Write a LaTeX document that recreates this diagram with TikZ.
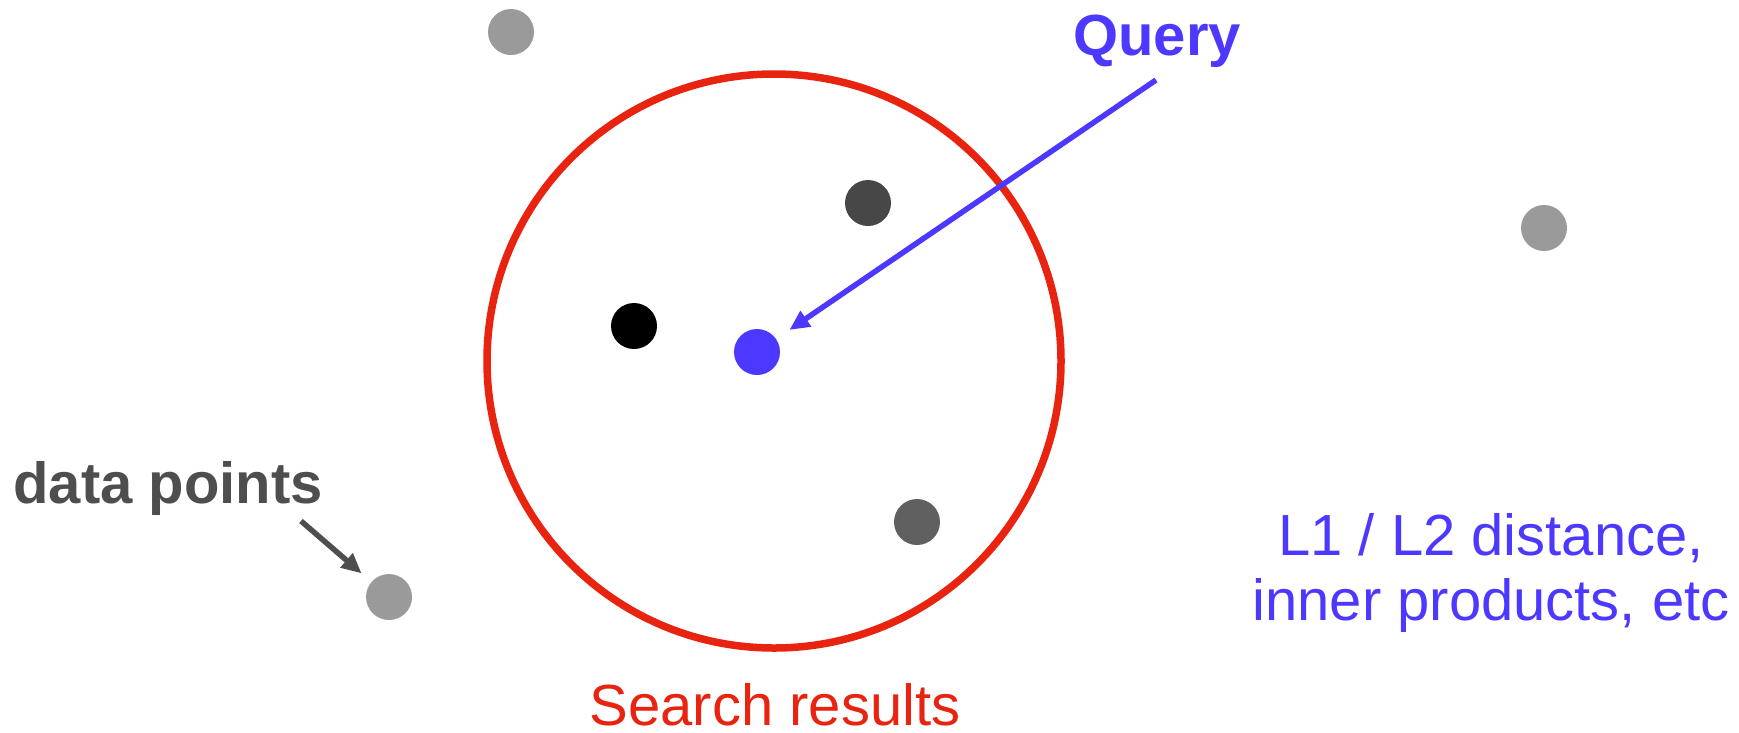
\documentclass[tikz,border=0pt]{standalone}
\usepackage{fontspec}
\setmainfont{Liberation Sans}
\usetikzlibrary{arrows.meta}
\definecolor{qblue}{RGB}{76,56,255}
\definecolor{rred}{RGB}{232,35,15}
\definecolor{lgray}{RGB}{154,154,154}
\definecolor{mgray}{RGB}{96,96,96}
\definecolor{dgray}{RGB}{71,71,71}
\definecolor{tgray}{RGB}{78,78,78}
\tikzset{
  dot/.style={circle, inner sep=0pt, minimum size=46pt, fill=#1},
  biglabel/.style={inner sep=0pt, anchor=base, font=\fontsize{58}{68}\selectfont\bfseries},
  plainlabel/.style={inner sep=0pt, anchor=base, font=\fontsize{58}{65}\selectfont},
}
\begin{document}
\begin{tikzpicture}[x=1pt, y=-1pt]
\useasboundingbox (0,0) rectangle (1739,732);
% search radius
\draw[rred, line width=7.5pt] (774,361) circle (287pt);
% data points
\node[dot=lgray] (p1) at (511,32) {};
\node[dot=dgray] (p2) at (868,203) {};
\node[dot=lgray] (p3) at (1544,228) {};
\node[dot=black] (p4) at (634,326) {};
\node[dot=qblue] (qp) at (757,352) {};
\node[dot=mgray] (p5) at (917,522) {};
\node[dot=lgray] (p6) at (389,597) {};
% labels
\node[biglabel, text=qblue] (q) at (1157,55) {Query};
\node[biglabel, text=tgray] (dp) at (168,503) {data points};
\node[plainlabel, text=rred, text depth=0pt] (sr) at (775,725) {Search results};
\node[plainlabel, text=qblue, align=center] (metric) at (1491,620) {L1 / L2 distance,\\inner products, etc};
% arrows
\coordinate (qstart) at (1156,80);
\coordinate (dstart) at (301,521);
\draw[qblue, line width=5.5pt, -{Triangle[length=20pt,width=18pt]}, shorten >=16pt] (qstart) -- (qp);
\draw[tgray, line width=5.5pt, -{Triangle[length=20pt,width=18pt]}, shorten >=13pt] (dstart) -- (p6);
\end{tikzpicture}
\end{document}
